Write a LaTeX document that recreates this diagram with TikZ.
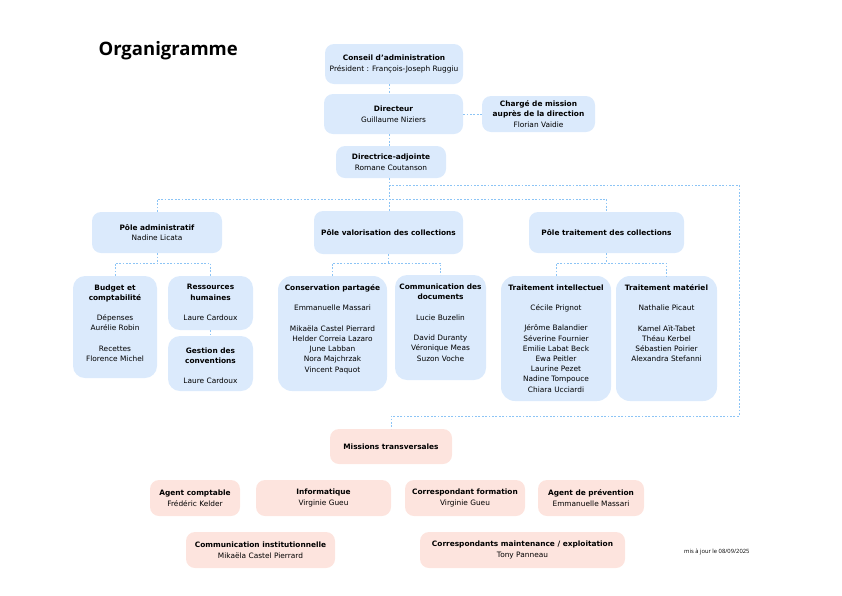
\documentclass[tikz,border=0pt]{standalone}
\usepackage{fontspec}
\setmainfont{DejaVu Sans}
\newfontfamily\titrefont{Open Sans}
\usetikzlibrary{positioning}

\definecolor{bleufond}{RGB}{219,234,252}
\definecolor{rosefond}{RGB}{253,228,222}
\definecolor{lientrait}{RGB}{140,196,245}

\tikzset{
  bleu/.style={fill=bleufond, rounded corners=9pt, inner sep=0pt, align=center,
    font=\fontsize{7.4}{10.6}\selectfont},
  rose/.style={fill=rosefond, rounded corners=9pt, inner sep=0pt, align=center,
    font=\fontsize{7.4}{10.6}\selectfont},
  texte/.style={inner sep=0pt, align=center, font=\fontsize{7.4}{10.2}\selectfont},
  lien/.style={draw=lientrait, line width=0.6pt, dash pattern=on 1.8pt off 1.6pt}
}

\begin{document}
\begin{tikzpicture}[x=1pt,y=-1pt]
\useasboundingbox (0,0) rectangle (842,595);

\node[anchor=base west, font=\titrefont\bfseries\fontsize{18.5}{20}\selectfont] (titre) at (95,55) {Organigramme};

% direction
\node[bleu, minimum width=138pt, minimum height=40pt] (conseil) at (394,64)
  {\textbf{Conseil d’administration}\\Président : François-Joseph Ruggiu};
\node[bleu, minimum width=139pt, minimum height=40pt] (directeur) at (393.5,114)
  {\textbf{Directeur}\\Guillaume Niziers};
\node[bleu, minimum width=113pt, minimum height=36pt] (charge) at (538.5,114)
  {\textbf{Chargé de mission}\\\textbf{auprès de la direction}\\Florian Vaidie};
\node[bleu, minimum width=110pt, minimum height=32pt] (adjointe) at (391,162)
  {\textbf{Directrice-adjointe}\\Romane Coutanson};

% poles
\node[bleu, minimum width=130pt, minimum height=41pt] (padmin) at (157,232.5)
  {\textbf{Pôle administratif}\\Nadine Licata};
\node[bleu, minimum width=149pt, minimum height=43pt] (pvalo) at (388.5,232.5)
  {\textbf{Pôle valorisation des collections}};
\node[bleu, minimum width=155pt, minimum height=41pt] (ptrait) at (606.5,232.5)
  {\textbf{Pôle traitement des collections}};

% services
\node[bleu, minimum width=84pt, minimum height=102pt, rounded corners=12pt] (budget) at (115,327) {};
\node[texte, below=8.5pt of budget.north] (budget-t)
  {\textbf{Budget et}\\\textbf{comptabilité}\\[10.2pt]Dépenses\\Aurélie Robin\\[10.2pt]Recettes\\Florence Michel};
\node[bleu, minimum width=85pt, minimum height=54pt, rounded corners=12pt] (rh) at (210.5,303) {};
\node[texte, below=8.5pt of rh.north] (rh-t)
  {\textbf{Ressources}\\\textbf{humaines}\\[10.2pt]Laure Cardoux};
\node[bleu, minimum width=85pt, minimum height=55pt, rounded corners=12pt] (gestion) at (210.5,363.5) {};
\node[texte, below=11.5pt of gestion.north] (gestion-t)
  {\textbf{Gestion des}\\\textbf{conventions}\\[10.2pt]Laure Cardoux};
\node[bleu, minimum width=109pt, minimum height=115pt, rounded corners=14pt] (conserv) at (332.5,333.5) {};
\node[texte, below=8.5pt of conserv.north] (conserv-t)
  {\textbf{Conservation partagée}\\[10.2pt]Emmanuelle Massari\\[10.2pt]Mikaëla Castel Pierrard\\Helder Correia Lazaro\\June Labban\\Nora Majchrzak\\Vincent Paquot};
\node[bleu, minimum width=91pt, minimum height=105pt, rounded corners=12pt] (comdoc) at (440.5,327.5) {};
\node[texte, below=9pt of comdoc.north] (comdoc-t)
  {\textbf{Communication des}\\\textbf{documents}\\[10.2pt]Lucie Buzelin\\[10.2pt]David Duranty\\Véronique Meas\\Suzon Voche};
\node[bleu, minimum width=110pt, minimum height=125pt, rounded corners=14pt] (tintel) at (556,338.5) {};
\node[texte, below=8.5pt of tintel.north] (tintel-t)
  {\textbf{Traitement intellectuel}\\[10.2pt]Cécile Prignot\\[10.2pt]Jérôme Balandier\\Séverine Fournier\\Emilie Labat Beck\\Ewa Peitler\\Laurine Pezet\\Nadine Tompouce\\Chiara Ucciardi};
\node[bleu, minimum width=101pt, minimum height=125pt, rounded corners=14pt] (tmat) at (666.5,338.5) {};
\node[texte, below=8.5pt of tmat.north] (tmat-t)
  {\textbf{Traitement matériel}\\[10.2pt]Nathalie Picaut\\[10.2pt]Kamel Aït-Tabet\\Théau Kerbel\\Sébastien Poirier\\Alexandra Stefanni};

% missions transversales
\node[rose, minimum width=122pt, minimum height=35pt] (missions) at (391,446.5)
  {\textbf{Missions transversales}};
\node[rose, minimum width=90pt, minimum height=36pt] (agent) at (195,498)
  {\textbf{Agent comptable}\\Frédéric Kelder};
\node[rose, minimum width=135pt, minimum height=36pt] (info) at (323.5,498)
  {\textbf{Informatique}\\Virginie Gueu};
\node[rose, minimum width=120pt, minimum height=36pt] (formation) at (465,498)
  {\textbf{Correspondant formation}\\Virginie Gueu};
\node[rose, minimum width=106pt, minimum height=36pt] (prevention) at (591,498)
  {\textbf{Agent de prévention}\\Emmanuelle Massari};
\node[rose, minimum width=149pt, minimum height=36pt] (cominst) at (260.5,550)
  {\textbf{Communication institutionnelle}\\Mikaëla Castel Pierrard};
\node[rose, minimum width=205pt, minimum height=36pt] (maint) at (522.5,550)
  {\textbf{Correspondants maintenance / exploitation}\\Tony Panneau};

\node[anchor=base east, font=\titrefont\fontsize{5.8}{7}\selectfont] (maj) at (753,553) {mis à jour le 08/09/2025};

% liens
\coordinate (axe) at (389,0);
\coordinate (barre) at (0,199);
\coordinate (sous) at (0,263);
\coordinate (coude) at (389,185);
\coordinate (droite) at (739,185);
\coordinate (retour) at (739,416);
\draw[lien] (conseil.south -| axe) -- (directeur.north -| axe);
\draw[lien] (directeur.east) -- (charge.west);
\draw[lien] (directeur.south -| axe) -- (adjointe.north -| axe);
\draw[lien] (adjointe.south -| axe) -- (pvalo.north -| axe);
\draw[lien] (padmin.north) |- (barre -| ptrait.north) -- (ptrait.north);
\draw[lien] (coude) -- (droite) -- (retour) -| (missions.north);
\draw[lien] (padmin.south) -- (padmin.south |- sous);
\draw[lien] (budget.north) |- (sous -| rh.north) -- (rh.north);
\draw[lien] (rh.south) -- (gestion.north);
\draw[lien] (pvalo.south) -- (pvalo.south |- sous);
\draw[lien] (conserv.north) |- (sous -| comdoc.north) -- (comdoc.north);
\draw[lien] (ptrait.south) -- (ptrait.south |- sous);
\draw[lien] (tintel.north) |- (sous -| tmat.north) -- (tmat.north);
\end{tikzpicture}
\end{document}
